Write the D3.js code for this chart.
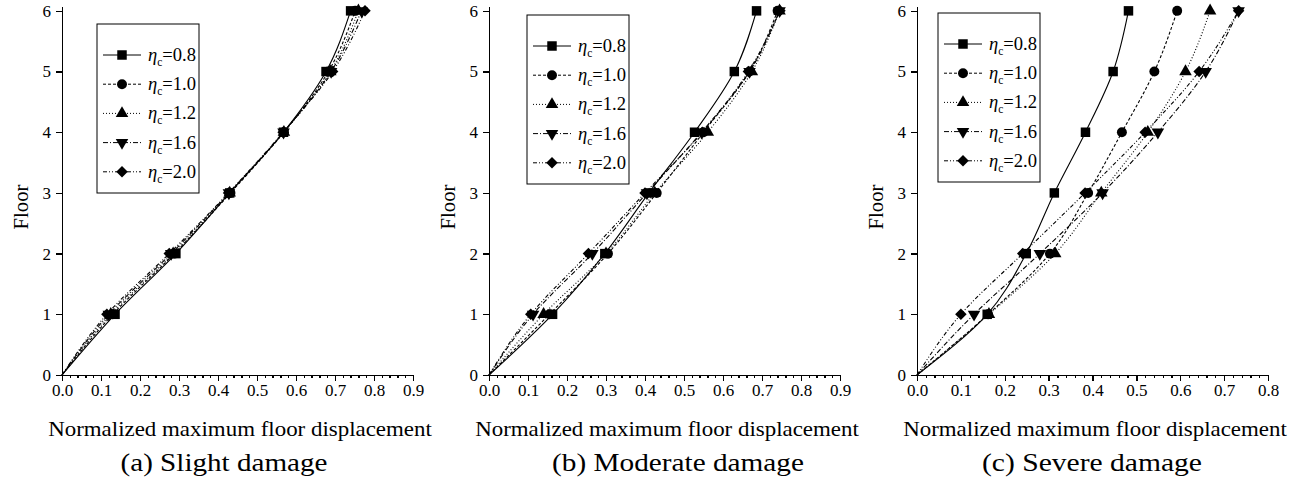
<!DOCTYPE html>
<meta charset="utf-8">
<style>
    body { margin: 0; background: #fff; }
    svg { display: block; }
    .axis path, .axis line { stroke: #000; stroke-width: 1.3px; shape-rendering: crispEdges; }
    .series { fill: none; stroke: #000; stroke-width: 1.1px; }
</style>
<svg width="1298" height="490"></svg>
<script src="https://cdnjs.cloudflare.com/ajax/libs/d3/7.8.5/d3.min.js"></script>
<script>

    const serif = "Liberation Serif";

    // floors 0..6, one row per eta_c value
    const floors = [0, 1, 2, 3, 4, 5, 6];
    const etaLabels = ["0.8", "1.0", "1.2", "1.6", "2.0"];

    const slightDamage = [
        [0, 0.136, 0.292, 0.430, 0.568, 0.677, 0.740],
        [0, 0.130, 0.288, 0.432, 0.569, 0.683, 0.752],
        [0, 0.125, 0.285, 0.430, 0.569, 0.688, 0.760],
        [0, 0.120, 0.280, 0.428, 0.568, 0.690, 0.768],
        [0, 0.115, 0.275, 0.427, 0.567, 0.694, 0.777]
    ];
    const moderateDamage = [
        [0, 0.163, 0.297, 0.410, 0.527, 0.629, 0.686],
        [0, 0.155, 0.305, 0.430, 0.550, 0.668, 0.740],
        [0, 0.140, 0.300, 0.425, 0.561, 0.674, 0.745],
        [0, 0.113, 0.265, 0.405, 0.545, 0.668, 0.745],
        [0, 0.107, 0.255, 0.400, 0.547, 0.665, 0.746]
    ];
    const severeDamage = [
        [0, 0.160, 0.249, 0.313, 0.384, 0.447, 0.482],
        [0, 0.162, 0.303, 0.390, 0.467, 0.541, 0.593],
        [0, 0.164, 0.315, 0.420, 0.526, 0.612, 0.668],
        [0, 0.130, 0.280, 0.423, 0.549, 0.658, 0.733],
        [0, 0.100, 0.241, 0.383, 0.520, 0.643, 0.733]
    ];

    const captions = ["(a) Slight damage", "(b) Moderate damage", "(c) Severe damage"];
    const xMaxes = [0.9, 0.9, 0.8];

    const dashes = [null, "3,2", "1,2", "5,2,1,2", "4,2,1,2,1,2"];
    const markers = ["square", "circle", "triangle", "down", "diamond"];

    const panels = [
        { left: 62,  legend: [97, 24],  capX: 224,  capW: 207, data: slightDamage },
        { left: 489, legend: [527, 15], capX: 678,  capW: 252, data: moderateDamage },
        { left: 917, legend: [938, 13], capX: 1092, capW: 220, data: severeDamage }
    ];

    const svg = d3.select("svg");
    svg.append("rect").attr("width", 1298).attr("height", 490).attr("fill", "#fff");

    const plotW = 351, bottom = 375;

    function markerPath(kind) {
        if (kind === "square") return d3.symbol(d3.symbolSquare, 90)();
        if (kind === "circle") return d3.symbol(d3.symbolCircle, 78)();
        if (kind === "triangle" || kind === "down") return d3.symbol(d3.symbolTriangle, 68)();
        return d3.symbol(d3.symbolSquare, 66)();
    }
    function markerRot(kind) {
        if (kind === "down") return " rotate(180)";
        if (kind === "diamond") return " rotate(45)";
        return "";
    }

    function etaLabel(sel, val, size) {
        sel.append("tspan").attr("font-style", "italic").text("η");
        sel.append("tspan").attr("dy", 5).attr("font-size", size * 0.62).text("c");
        sel.append("tspan").attr("dy", -5).text("=" + val);
    }

    // serif text, horizontally stretched to a wanted width
    function wideText(parent, str, size, width, tx, ty, rot) {
        const t = parent.append("text")
            .attr("font-family", serif).attr("font-size", size).attr("fill", "#000")
            .attr("text-anchor", "middle")
            .text(str);
        const w = t.node().getComputedTextLength();
        t.attr("transform", "translate(" + tx + "," + ty + ")" + (rot ? " rotate(" + rot + ")" : "") +
            " scale(" + (width / w) + ",1)");
        return t;
    }

    panels.forEach(function(p, pi) {
        const g = svg.append("g");

        const x = d3.scaleLinear().domain([0, xMaxes[pi]]).range([p.left, p.left + plotW]);
        const y = d3.scaleLinear().domain([0, 6.08]).range([bottom, 6]);

        // minor ticks on x
        const minor = d3.range(0, xMaxes[pi] + 0.001, 0.02);
        g.append("g")
            .attr("class", "axis")
            .attr("transform", "translate(0," + bottom + ")")
            .call(d3.axisBottom(x).tickValues(minor).tickSize(3).tickSizeOuter(0).tickFormat(""));

        const major = d3.range(0, xMaxes[pi] + 0.001, 0.1);
        const xa = g.append("g")
            .attr("class", "axis")
            .attr("transform", "translate(0," + bottom + ")")
            .call(d3.axisBottom(x).tickValues(major).tickSize(6).tickSizeOuter(0).tickPadding(3).tickFormat(d3.format(".1f")));
        xa.attr("font-family", serif).attr("font-size", 17);

        const ya = g.append("g")
            .attr("class", "axis")
            .attr("transform", "translate(" + p.left + ",0)")
            .call(d3.axisLeft(y).tickValues(floors).tickSize(6).tickSizeOuter(0).tickPadding(5).tickFormat(d3.format("d")));
        ya.attr("font-family", serif).attr("font-size", 17);

        // series
        const line = d3.line()
            .x(function(d) { return x(d[0]); })
            .y(function(d) { return y(d[1]); })
            .curve(d3.curveMonotoneY);

        p.data.forEach(function(vals, si) {
            const pts = vals.map(function(v, i) { return [v, floors[i]]; });
            g.append("path")
                .attr("class", "series")
                .attr("d", line(pts))
                .attr("stroke-dasharray", dashes[si]);
            g.selectAll(".m" + si)
                .data(pts.slice(1))
                .enter().append("path")
                .attr("class", "m" + si)
                .attr("d", markerPath(markers[si]))
                .attr("transform", function(d) { return "translate(" + x(d[0]) + "," + y(d[1]) + ")" + markerRot(markers[si]); })
                .attr("fill", "#000");
        });

        // legend
        const lx = p.legend[0], ly = p.legend[1];
        g.append("rect")
            .attr("x", lx).attr("y", ly).attr("width", 102).attr("height", 169)
            .attr("fill", "#fff").attr("stroke", "#000").attr("stroke-width", 1);
        etaLabels.forEach(function(lab, si) {
            const ry = ly + 31 + si * 29.2;
            g.append("line")
                .attr("x1", lx + 6).attr("x2", lx + 44).attr("y1", ry).attr("y2", ry)
                .attr("stroke", "#000").attr("stroke-dasharray", dashes[si]);
            g.append("path")
                .attr("d", markerPath(markers[si]))
                .attr("transform", "translate(" + (lx + 25) + "," + ry + ")" + markerRot(markers[si]))
                .attr("fill", "#000");
            const t = g.append("text")
                .attr("x", lx + 51).attr("y", ry + 6)
                .attr("font-family", serif).attr("font-size", 19).attr("fill", "#000")
                .attr("textLength", 48).attr("lengthAdjust", "spacingAndGlyphs");
            etaLabel(t, lab, 19);
        });

        // axis titles
        wideText(g, "Floor", 22, 45, p.left - 34, 207, -90);
        wideText(g, "Normalized maximum floor displacement", 21, 384, p.left + 178, 436);
        wideText(g, captions[pi], 25, p.capW, p.capX, 471);
    });

</script>
